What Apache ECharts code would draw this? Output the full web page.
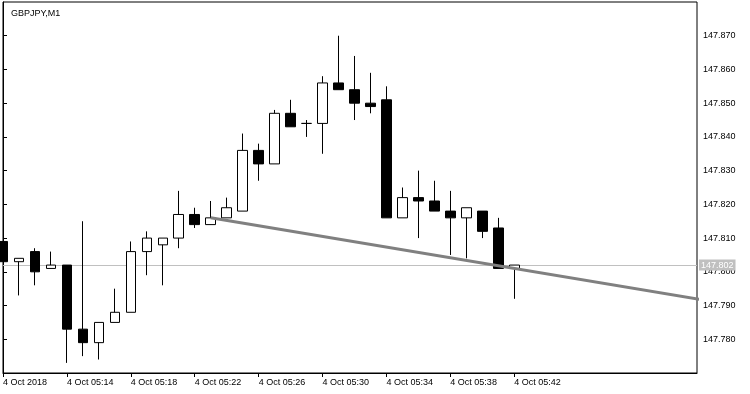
<!DOCTYPE html>
<html>
<head>
<meta charset="utf-8">
<script src="https://cdn.jsdelivr.net/npm/echarts@6/dist/echarts.min.js"></script>
<style>html,body{margin:0;padding:0;background:#fff}#c{width:750px;height:394px}</style>
</head>
<body>
<div id="c"></div>
<script>
var title = 'GBPJPY,M1';
var times = ['05:10','05:11','05:12','05:13','05:14','05:15','05:16','05:17','05:18','05:19','05:20','05:21','05:22','05:23','05:24','05:25','05:26','05:27','05:28','05:29','05:30','05:31','05:32','05:33','05:34','05:35','05:36','05:37','05:38','05:39','05:40','05:41','05:42'];
var opens  = [147.809,147.803,147.806,147.801,147.802,147.783,147.779,147.785,147.788,147.806,147.808,147.810,147.817,147.814,147.816,147.818,147.836,147.832,147.847,147.844,147.844,147.856,147.854,147.850,147.851,147.816,147.822,147.821,147.818,147.816,147.818,147.813,147.801];
var highs  = [147.809,147.804,147.807,147.806,147.802,147.815,147.785,147.795,147.809,147.812,147.810,147.824,147.819,147.821,147.822,147.841,147.838,147.848,147.851,147.845,147.858,147.870,147.864,147.859,147.855,147.825,147.830,147.827,147.824,147.819,147.818,147.816,147.802];
var lows   = [147.803,147.793,147.796,147.801,147.773,147.775,147.774,147.785,147.788,147.799,147.796,147.807,147.813,147.814,147.816,147.818,147.827,147.832,147.843,147.840,147.835,147.854,147.845,147.847,147.816,147.816,147.810,147.818,147.805,147.804,147.810,147.801,147.792];
var closes = [147.803,147.804,147.800,147.802,147.783,147.779,147.785,147.788,147.806,147.810,147.810,147.817,147.814,147.816,147.819,147.836,147.832,147.847,147.843,147.844,147.856,147.854,147.850,147.849,147.816,147.822,147.821,147.818,147.816,147.819,147.812,147.801,147.802];
var xTickIndex  = [0,4,8,12,16,20,24,28,32];
var xTickLabels = ['4 Oct 2018','4 Oct 05:14','4 Oct 05:18','4 Oct 05:22','4 Oct 05:26','4 Oct 05:30','4 Oct 05:34','4 Oct 05:38','4 Oct 05:42'];
var trendLine = [[13,147.816],[44,147.7915]];
var yMin = 147.770, yMax = 147.880, yStep = 0.010;

var FONT = 'Liberation Sans';
var gridLeft = 2, gridTop = 2, gridW = 695, gridH = 371, barSpacing = 16;
var xMax = gridW / barSpacing;

var candles = times.map(function(t, i){ return [i, opens[i], closes[i], lows[i], highs[i]]; });
var lastClose = closes[closes.length - 1];

var chart = echarts.init(document.getElementById('c'), null, {renderer:'canvas'});
chart.setOption({
  animation: false,
  backgroundColor: '#ffffff',
  title: {text: title, left: 6, top: 4, textStyle: {fontFamily: FONT, fontSize: 9, fontWeight: 'normal', color: '#000'}},
  grid: {left: gridLeft, top: gridTop, width: gridW, height: gridH, show: true, borderColor: '#000', borderWidth: 1, backgroundColor: '#fff'},
  xAxis: {
    type: 'value', min: 0, max: xMax, interval: 4,
    axisLine: {show: true, onZero: false, lineStyle: {color: '#000', width: 1}},
    axisTick: {show: true, length: 4, customValues: xTickIndex, lineStyle: {color: '#000'}},
    axisLabel: {show: true, customValues: xTickIndex, align: 'left', margin: 5, fontFamily: FONT, fontSize: 9, color: '#000',
      formatter: function(v){ var k = xTickIndex.indexOf(Math.round(v)); return k >= 0 ? xTickLabels[k] : ''; }},
    splitLine: {show: false}
  },
  yAxis: {
    type: 'value', position: 'right', min: yMin, max: yMax, interval: yStep, scale: true,
    axisLine: {show: true, lineStyle: {color: '#000', width: 1}},
    axisTick: {show: true, length: 4, lineStyle: {color: '#000'}},
    axisLabel: {show: true, margin: 6, fontFamily: FONT, fontSize: 9, color: '#000', showMinLabel: false, showMaxLabel: false,
      formatter: function(v){ return v.toFixed(3); }},
    splitLine: {show: false}
  },
  series: [
    {
      type: 'candlestick', data: candles, encode: {x: 0, y: [1,2,3,4]},
      barWidth: 10, clip: false,
      itemStyle: {color: '#ffffff', color0: '#000000', borderColor: '#000000', borderColor0: '#000000', borderWidth: 1},
      z: 3
    },
    {
      type: 'line', data: trendLine, symbol: 'none', clip: true,
      lineStyle: {color: '#808080', width: 3}, z: 5, silent: true,
      markLine: {
        silent: true, symbol: ['none','none'], animation: false, precision: 3, z: 1,
        lineStyle: {color: '#c0c0c0', width: 1, type: 'solid'},
        label: {show: true, position: 'end', distance: 2, formatter: lastClose.toFixed(3), color: '#ffffff', backgroundColor: '#c0c0c0',
          fontFamily: FONT, fontSize: 9, padding: [1,2,1,2]},
        data: [{yAxis: lastClose}]
      }
    }
  ]
});
</script>
</body>
</html>
